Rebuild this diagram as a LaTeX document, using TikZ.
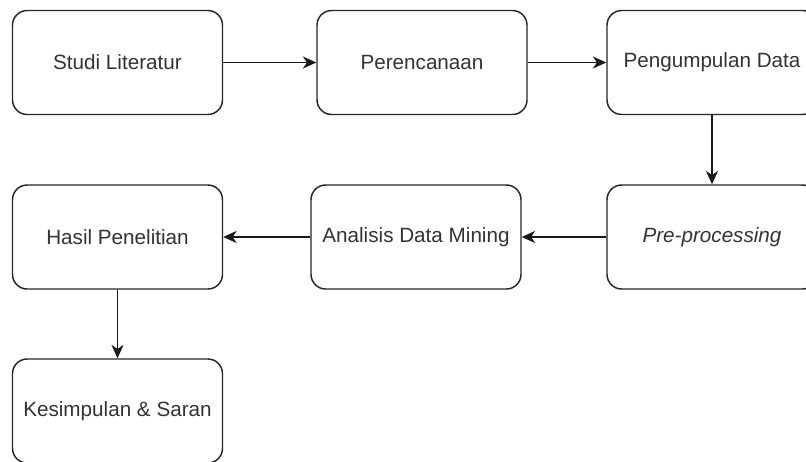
\documentclass[tikz,border=0pt]{standalone}
\usepackage{fontspec}
\setmainfont{Liberation Sans}
\usetikzlibrary{arrows.meta}
\tikzset{
  tahap/.style={draw=black!85,line width=1.1pt,rounded corners=11pt,minimum width=157.5pt,minimum height=78pt,font=\fontsize{15.5}{18}\selectfont,text=black!80,align=center},
  panah/.style={draw=black!90,line width=1.1pt,-{Stealth[length=10pt,width=9pt,inset=3pt]}}
}
\begin{document}
\begin{tikzpicture}[x=0.75pt,y=-0.75pt]
\useasboundingbox (0,0) rectangle (806,461);
\clip (0,0) rectangle (806,461);
\node[tahap] (studi) at (117.5,62.5) {Studi Literatur};
\node[tahap] (renc) at (422,62.5) {Perencanaan};
\node[tahap] (kumpul) at (712,62.5) {Pengumpulan Data};
\node[tahap] (pre) at (712,237) {\itshape Pre-processing};
\node[tahap] (analisis) at (416,237) {Analisis Data Mining};
\node[tahap] (hasil) at (117.5,237) {Hasil Penelitian};
\node[tahap] (simpul) at (117.5,411) {Kesimpulan \& Saran};
\draw[panah] (studi)--(renc);
\draw[panah] (renc)--(kumpul);
\draw[panah] (kumpul)--(pre);
\draw[panah] (pre)--(analisis);
\draw[panah] (analisis)--(hasil);
\draw[panah] (hasil)--(simpul);
\end{tikzpicture}
\end{document}
